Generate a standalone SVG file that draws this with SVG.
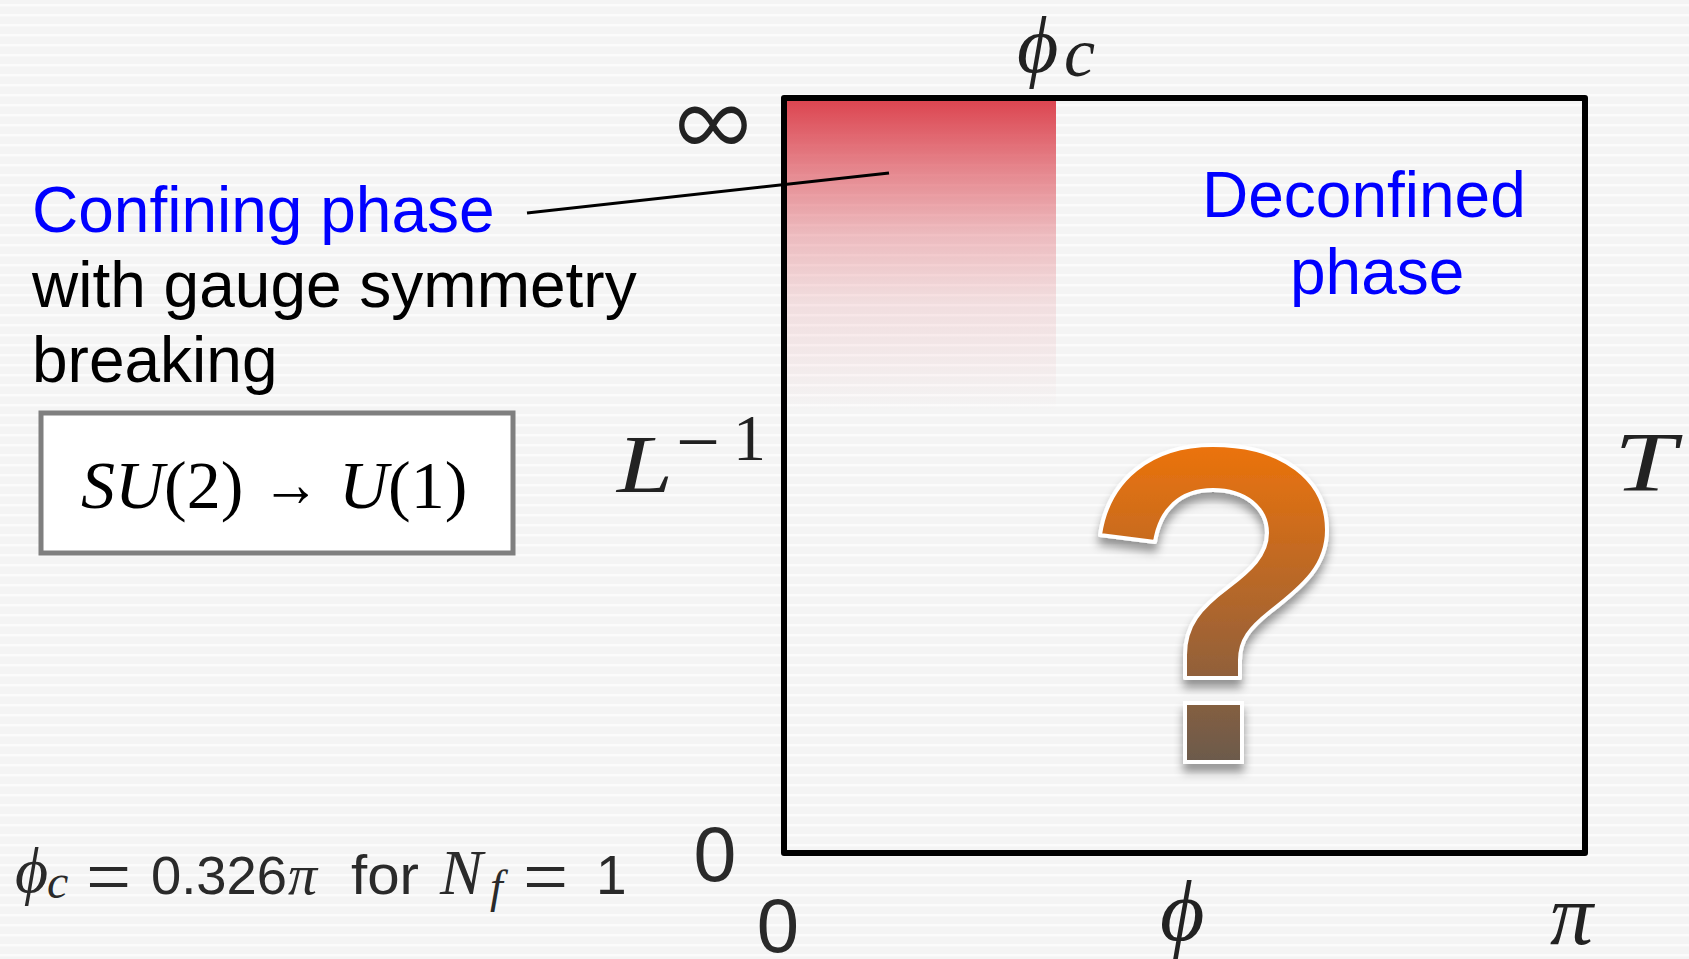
<svg xmlns="http://www.w3.org/2000/svg" width="1689" height="959" viewBox="0 0 1689 959">
<defs>
<style>
.sans{font-family:"Liberation Sans",Arial,sans-serif;font-size:64px}
.blue{fill:#0000FF}
.blk{fill:#000}
.math{font-family:"Liberation Serif","DejaVu Serif",serif;font-style:italic;fill:#222}
.up{font-style:normal}
.num{font-family:"Liberation Sans",Arial,sans-serif;fill:#2a2a2a}
.frame{fill:none;stroke:#000;stroke-width:6;stroke-linejoin:round}
.fs{font-family:"Liberation Serif","DejaVu Serif",serif}
.fi{font-family:"Liberation Serif","DejaVu Serif",serif;font-style:italic}
.fn{font-family:"Liberation Sans",Arial,sans-serif}
</style>
<pattern id="stripes" width="10" height="10" patternUnits="userSpaceOnUse">
<rect width="10" height="10" fill="#F4F4F4"/>
<rect y="4" width="10" height="2.5" fill="#FBFBFB"/>
</pattern>
<linearGradient id="pink" x1="0" y1="0" x2="0" y2="1">
<stop offset="0" stop-color="#DC4651" stop-opacity="1"/>
<stop offset="0.23" stop-color="#DC4651" stop-opacity="0.62"/>
<stop offset="0.43" stop-color="#DC4651" stop-opacity="0.33"/>
<stop offset="0.65" stop-color="#DC4651" stop-opacity="0.13"/>
<stop offset="1" stop-color="#DC4651" stop-opacity="0"/>
</linearGradient>
<linearGradient id="qgrad" gradientUnits="userSpaceOnUse" x1="0" y1="445" x2="0" y2="762">
<stop offset="0" stop-color="#EC730B"/>
<stop offset="0.5" stop-color="#B0662C"/>
<stop offset="1" stop-color="#6B5A4C"/>
</linearGradient>
<filter id="shadow" x="-20%" y="-20%" width="140%" height="140%">
<feDropShadow dx="0" dy="8" stdDeviation="5" flood-color="#000" flood-opacity="0.4"/>
</filter>
</defs>

<rect id="background" width="1689" height="959" fill="url(#stripes)"/>

<g id="confining-region">
<rect x="787" y="101" width="269" height="310" fill="url(#pink)"/>
</g>

<g id="phase-box">
<rect class="frame" x="784" y="98" width="801" height="755"/>
</g>

<g id="axis-labels">
<text class="math" x="1017" y="72" font-size="80">ϕ</text>
<text class="math" x="1064" y="76" font-size="70">c</text>
<text x="713" y="156" font-family="Inter,Lato,'DejaVu Sans',sans-serif" font-weight="300" font-size="100" fill="#222" text-anchor="middle" textLength="77" lengthAdjust="spacingAndGlyphs">∞</text>
<text class="math" x="617" y="492" font-size="82" textLength="56" lengthAdjust="spacingAndGlyphs">L</text>
<text class="math up" x="676" y="468" font-size="78">−</text>
<text class="math up" x="733" y="460" font-size="66">1</text>
<text class="math" x="1614" y="491" font-size="84" textLength="62" lengthAdjust="spacingAndGlyphs">T</text>
<text class="num" x="715" y="881" font-size="77" text-anchor="middle">0</text>
<text class="num" x="778" y="952" font-size="76" text-anchor="middle">0</text>
<text class="math" x="1160" y="940" font-size="86">ϕ</text>
<text class="math" x="1550" y="944" font-size="86">π</text>
</g>

<g id="confining-label">
<text class="sans blue" x="32" y="232">Confining phase</text>
<text class="sans blk" x="32" y="307">with gauge symmetry</text>
<text class="sans blk" x="32" y="382">breaking</text>
</g>

<g id="symmetry-box">
<rect x="41" y="413" width="472" height="140" fill="#fff" stroke="#7F7F7F" stroke-width="5"/>
<text y="508" font-size="68" fill="#000" class="fs"><tspan x="81" font-style="italic">SU</tspan><tspan>(2)</tspan></text>
<text x="262" y="506" font-size="66" fill="#000" class="fs" textLength="58" lengthAdjust="spacingAndGlyphs">→</text>
<text y="508" font-size="68" fill="#000" class="fs"><tspan x="339" font-style="italic">U</tspan><tspan>(1)</tspan></text>
</g>

<g id="deconfined-label">
<text class="sans blue" x="1202" y="217">Deconfined</text>
<text class="sans blue" x="1290" y="294">phase</text>
</g>

<g id="question-mark" filter="url(#shadow)">
<path d="M1100,535 L1155,542 C1160,510 1180,490 1213,490 C1245,490 1267,508 1267,533 C1267,555 1250,570 1228,587 C1200,608 1185,625 1185,655 L1185,678 L1240,678 L1240,660 C1240,640 1250,628 1270,612 C1305,585 1327,565 1327,530 C1327,480 1283,445 1213,445 C1150,445 1108,480 1100,535 Z" fill="url(#qgrad)" stroke="#fff" stroke-width="4" stroke-linejoin="round"/>
<rect x="1185" y="703" width="57" height="59" fill="url(#qgrad)" stroke="#fff" stroke-width="4"/>
</g>

<g id="formula" fill="#2a2a2a">
<text class="fi" x="15" y="892" font-size="64">ϕ</text>
<text class="fi" x="47" y="898" font-size="48">c</text>
<text class="fs" x="86" y="904" font-size="80">=</text>
<text class="fn" x="151" y="894" font-size="54" textLength="136" lengthAdjust="spacingAndGlyphs">0.326</text>
<text class="fi" x="288" y="894" font-size="58">π</text>
<text class="fn" x="351" y="894" font-size="55" textLength="68" lengthAdjust="spacingAndGlyphs">for</text>
<text class="fi" x="440" y="894" font-size="64">N</text>
<text class="fi" x="490" y="902" font-size="46">f</text>
<text class="fs" x="523" y="904" font-size="80">=</text>
<text class="fn" x="596" y="894" font-size="55">1</text>
</g>

<g id="connectors">
<line x1="527" y1="213" x2="889" y2="173" stroke="#000" stroke-width="3"/>
</g>
</svg>
